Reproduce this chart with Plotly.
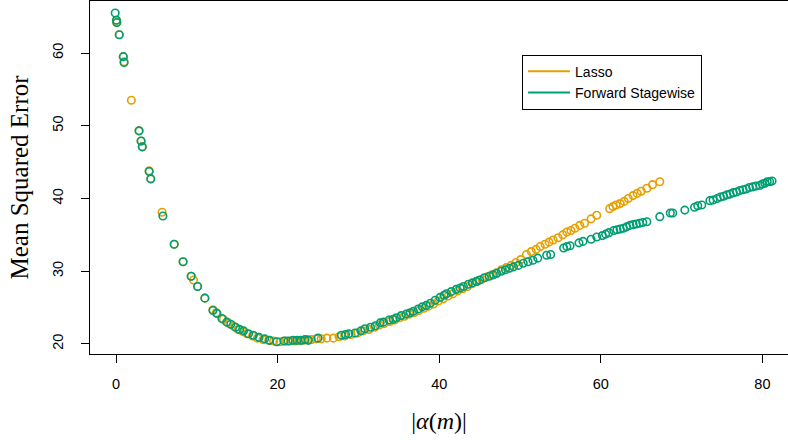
import plotly.graph_objects as go

# Forward Stagewise (green)
fs_x = [-0.1, 0.05, 0.1, 0.4, 0.9, 1.0, 2.85, 3.1, 3.25, 4.1, 4.3, 5.8, 7.2, 8.3, 9.3, 10.1, 11.0,
        12.0, 12.5, 13.1, 13.7, 14.2, 14.8, 15.3, 15.8, 16.4, 17.0, 17.7, 18.4, 19.0, 19.9, 20.8,
        21.3, 21.9, 22.4, 22.9, 23.4, 23.8, 25.0, 27.9, 28.4, 28.8, 29.6, 30.3, 30.8, 31.5, 32.1,
        32.7, 33.1, 33.8, 34.3, 34.7, 35.3, 35.9, 36.4, 36.8, 37.4, 37.9, 38.4, 38.9, 39.5, 40.1,
        40.6, 40.9, 41.5, 42.1, 42.6, 43.0, 43.6, 44.1, 44.6, 45.0, 45.6, 46.2, 46.7, 47.1, 47.7,
        48.2, 48.7, 49.2, 49.8, 50.4, 51.0, 51.6, 52.2, 53.3, 53.8, 55.4, 55.8, 56.2, 57.3, 57.8,
        58.8, 59.5, 60.2, 60.6, 61.0, 61.6, 62.0, 62.4, 62.8, 63.2, 63.6, 64.0, 64.4, 64.8, 65.2,
        65.7, 67.3, 68.6, 68.9, 70.4, 71.6, 72.0, 72.5, 73.5, 73.9, 74.4, 74.8, 75.2, 75.6, 76.0,
        76.4, 76.8, 77.2, 77.6, 78.0, 78.4, 78.8, 79.2, 79.7, 80.0, 80.3, 80.6, 80.9, 81.2]
fs_y = [65.5, 64.5, 64.2, 62.5, 59.5, 58.7, 49.3, 47.9, 47.1, 43.7, 42.7, 37.6, 33.7, 31.3, 29.3, 27.9, 26.3,
        24.6, 24.2, 23.5, 23.0, 22.7, 22.3, 22.0, 21.8, 21.4, 21.2, 20.9, 20.7, 20.5, 20.3, 20.4,
        20.4, 20.5, 20.5, 20.5, 20.6, 20.5, 20.8, 21.2, 21.3, 21.4, 21.5, 21.8, 22.1, 22.3, 22.5,
        22.9, 23.0, 23.3, 23.4, 23.6, 23.9, 24.1, 24.3, 24.5, 24.8, 25.1, 25.3, 25.6, 26.0, 26.4,
        26.7, 26.9, 27.2, 27.5, 27.7, 27.9, 28.2, 28.4, 28.6, 28.8, 29.1, 29.3, 29.5, 29.7, 30.0,
        30.2, 30.4, 30.6, 30.8, 31.1, 31.3, 31.5, 31.8, 32.2, 32.3, 33.2, 33.4, 33.5, 33.9, 34.1,
        34.4, 34.7, 34.9, 35.1, 35.3, 35.6, 35.7, 35.8, 35.9, 36.1, 36.3, 36.4, 36.5, 36.6, 36.7,
        36.8, 37.5, 38.0, 38.0, 38.4, 38.8, 39.0, 39.1, 39.7, 39.8, 40.0, 40.2, 40.3, 40.5, 40.6,
        40.8, 40.9, 41.1, 41.2, 41.3, 41.5, 41.6, 41.7, 41.8, 42.0, 42.1, 42.3, 42.3, 42.4]

# Lasso (orange)
la_x = [0.05, 0.1, 0.4, 0.9, 1.0, 1.9, 2.85, 3.1, 3.25, 4.1, 4.3, 5.7, 7.2, 8.3, 9.3, 9.6, 10.1, 11.0,
        12.0, 12.4, 13.3, 13.9, 14.5, 15.1, 15.7, 16.2, 16.9, 17.5, 18.2, 18.9, 19.5, 20.3, 21.0,
        21.6, 22.2, 22.7, 23.2, 23.7, 24.2, 24.8, 25.4, 26.1, 26.9, 27.6, 28.3, 29.1, 29.9, 30.6,
        31.3, 32.0, 32.6, 33.2, 33.9, 34.5, 35.1, 35.7, 36.3, 36.9, 37.5, 38.1, 38.7, 39.3, 39.9,
        40.5, 41.1, 41.7, 42.3, 42.9, 43.5, 44.1, 44.7, 45.3, 45.9, 46.5, 47.1, 47.7, 48.3, 48.9,
        49.5, 50.1, 50.8, 51.4, 52.0, 52.5, 53.1, 53.6, 54.1, 54.7, 55.3, 55.8, 56.3, 56.8, 57.4,
        58.0, 58.8, 59.5, 61.1, 61.5, 61.9, 62.4, 62.9, 63.4, 64.0, 64.5, 65.0, 65.7, 66.4, 67.3]
la_y = [64.5, 64.2, 62.5, 59.5, 58.8, 53.5, 49.3, 47.9, 47.1, 43.8, 42.7, 38.1, 33.7, 31.3, 29.3, 28.8, 27.9, 26.3,
        24.7, 24.3, 23.4, 22.9, 22.5, 22.0, 21.7, 21.4, 21.1, 20.8, 20.6, 20.5, 20.4, 20.3, 20.4,
        20.4, 20.4, 20.5, 20.5, 20.6, 20.6, 20.7, 20.7, 20.8, 20.8, 21.0, 21.1, 21.3, 21.5, 21.8,
        22.0, 22.3, 22.6, 22.8, 23.1, 23.3, 23.6, 23.8, 24.1, 24.3, 24.6, 24.9, 25.2, 25.5, 25.9,
        26.2, 26.6, 26.9, 27.3, 27.6, 27.9, 28.3, 28.6, 28.9, 29.2, 29.5, 29.8, 30.2, 30.5, 30.8,
        31.2, 31.6, 32.3, 32.7, 33.0, 33.4, 33.7, 34.0, 34.3, 34.6, 35.0, 35.4, 35.6, 35.9, 36.3,
        36.6, 37.2, 37.7, 38.6, 38.9, 39.1, 39.3, 39.6, 40.0, 40.4, 40.7, 41.0, 41.4, 41.9, 42.3]

x_ticks = [0, 20, 40, 60, 80]
y_ticks = [20, 30, 40, 50, 60]

ORANGE = "#E69F00"
GREEN = "#009E73"

fig = go.Figure()
mk = dict(symbol="circle-open", size=7.5)
fig.add_trace(go.Scatter(x=la_x, y=la_y, mode="markers", showlegend=False,
                         marker=dict(color=ORANGE, line=dict(width=1.6, color=ORANGE), **mk)))
fig.add_trace(go.Scatter(x=fs_x, y=fs_y, mode="markers", showlegend=False,
                         marker=dict(color=GREEN, line=dict(width=1.6, color=GREEN), **mk)))
fig.add_trace(go.Scatter(x=[None], y=[None], mode="lines", name="Lasso",
                         line=dict(color=ORANGE, width=2)))
fig.add_trace(go.Scatter(x=[None], y=[None], mode="lines", name="Forward Stagewise",
                         line=dict(color=GREEN, width=2)))

fig.update_layout(
    width=788, height=440,
    margin=dict(l=90, r=0, t=1, b=86),
    plot_bgcolor="white", paper_bgcolor="white",
    font=dict(family="Liberation Sans, Arial", color="black"),
    legend=dict(x=0.619, y=0.848, xanchor="left", yanchor="top",
                bordercolor="black", borderwidth=1, bgcolor="white",
                font=dict(size=14, family="Liberation Sans, Arial"),
                tracegroupgap=0, itemwidth=42),
    xaxis=dict(range=[-3.22, 83.17], tickvals=x_ticks, ticks="outside", ticklen=8,
               tickcolor="black", showline=True, linecolor="black", linewidth=1, mirror=True,
               showgrid=False, zeroline=False, tickfont=dict(size=14.5), ticklabelstandoff=9,
               title=dict(text="|<i>α</i>(<i>m</i>)|",
                          font=dict(family="Liberation Serif, DejaVu Serif", size=24), standoff=20)),
    yaxis=dict(range=[18.62, 67.15], tickvals=y_ticks, ticks="outside", ticklen=8,
               tickcolor="black", showline=True, linecolor="black", linewidth=1, mirror=False,
               showgrid=False, zeroline=False, tickfont=dict(size=14.5), tickangle=-90,
               ticklabelstandoff=12,
               title=dict(text="Mean Squared Error",
                          font=dict(family="Liberation Serif, DejaVu Serif", size=25), standoff=14)),
)

fig.write_html("out.html")
